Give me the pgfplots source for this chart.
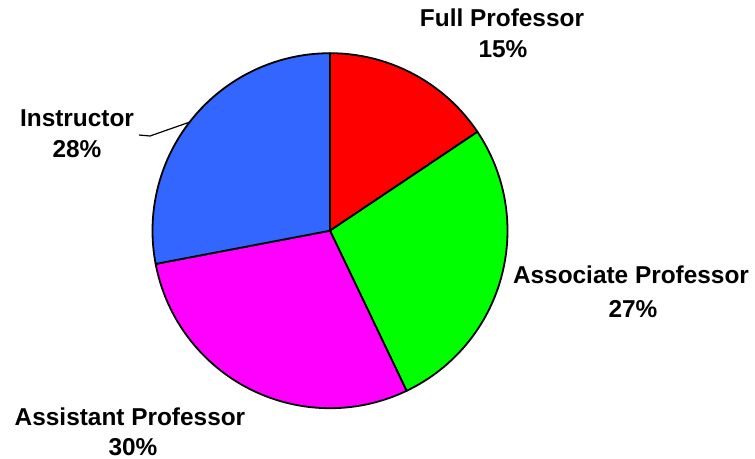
\documentclass[border=0pt]{standalone}
\usepackage{fontspec}
\setmainfont{Liberation Sans}
\usepackage{pgfplots}
\pgfplotsset{compat=1.18}
\definecolor{fullc}{HTML}{FF0000}
\definecolor{assocc}{HTML}{00FF00}
\definecolor{assistc}{HTML}{FF00FF}
\definecolor{instrc}{HTML}{3366FF}
\tikzset{lbl/.style={font=\bfseries\fontsize{12.2}{14}\selectfont, anchor=base, inner sep=0pt}}
% shares (percent of the pie), clockwise from 12 o'clock
\def\vFull{15.6}
\def\vAssoc{27.3}
\def\vAssist{29.1}
\def\vInstr{28.0}
\pgfmathsetmacro\aA{90}
\pgfmathsetmacro\aB{\aA-3.6*\vFull}
\pgfmathsetmacro\aC{\aB-3.6*\vAssoc}
\pgfmathsetmacro\aD{\aC-3.6*\vAssist}
\pgfmathsetmacro\aE{\aD-3.6*\vInstr}
\def\cx{330}
\def\cy{227.3}
\def\rr{177.5}
\begin{document}
\begin{tikzpicture}
\begin{axis}[hide axis, scale only axis, width=377.5pt, height=229pt,
  xmin=0, xmax=755, ymin=0, ymax=458, clip=false,
  every axis plot/.append style={draw=black, line width=0.9pt, line join=round, mark=none, samples=90, variable=\t}]
\path (axis cs:0,0) rectangle (axis cs:755,458);
\addplot[fill=fullc, domain=\aB:\aA] ({\cx+\rr*cos(\t)},{\cy+\rr*sin(\t)}) -- (axis cs:\cx,\cy) -- cycle;
\addplot[fill=assocc, domain=\aC:\aB] ({\cx+\rr*cos(\t)},{\cy+\rr*sin(\t)}) -- (axis cs:\cx,\cy) -- cycle;
\addplot[fill=assistc, domain=\aD:\aC] ({\cx+\rr*cos(\t)},{\cy+\rr*sin(\t)}) -- (axis cs:\cx,\cy) -- cycle;
\addplot[fill=instrc, domain=\aE:\aD] ({\cx+\rr*cos(\t)},{\cy+\rr*sin(\t)}) -- (axis cs:\cx,\cy) -- cycle;
\draw[black, line width=0.6pt] (axis cs:139,323) -- (axis cs:150,322) -- (axis cs:190,336);
\node[lbl] at (axis cs:502,431) {Full Professor};
\node[lbl] at (axis cs:503,400) {15\%};
\node[lbl] at (axis cs:631,175) {Associate Professor};
\node[lbl] at (axis cs:633,141) {27\%};
\node[lbl] at (axis cs:130,33) {Assistant Professor};
\node[lbl] at (axis cs:133,3) {30\%};
\node[lbl] at (axis cs:77,331) {Instructor};
\node[lbl] at (axis cs:77,300) {28\%};
\end{axis}
\end{tikzpicture}
\end{document}
